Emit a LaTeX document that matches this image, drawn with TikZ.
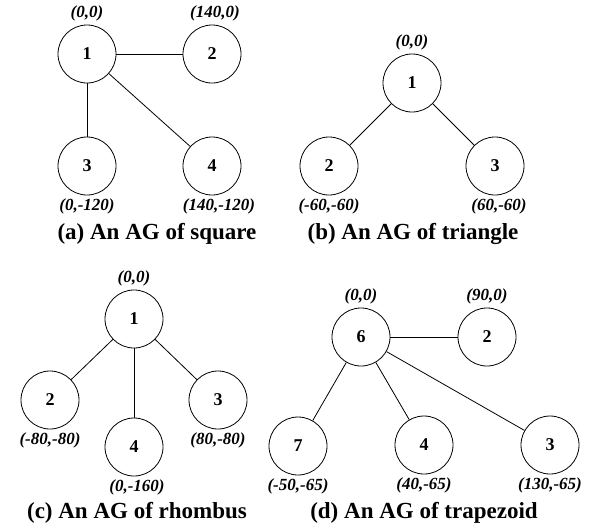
\documentclass[tikz,border=0pt]{standalone}
\usepackage{fontspec}
\setmainfont{Liberation Serif}
\usetikzlibrary{positioning}
\tikzset{every picture/.style={line width=0.8pt},
agnode/.style={circle,draw,minimum size=58pt,inner sep=0pt,font=\fontsize{18}{20}\selectfont\bfseries},
coordlabel/.style={inner sep=0pt,font=\fontsize{17}{19}\selectfont\bfseries\itshape},
captext/.style={inner sep=0pt,font=\fontsize{23}{26}\selectfont\bfseries}}
\begin{document}
\begin{tikzpicture}[x=1pt,y=-1pt]
\useasboundingbox (0,0) rectangle (596,531);

% (a) square
\node (a1) at (87,54) [agnode] {1};
\node (a2) at (212,54) [agnode] {2};
\node (a3) at (87,166) [agnode] {3};
\node (a4) at (212,166) [agnode] {4};
\node (pa1) [coordlabel, above=3pt of a1] {(0,0)};
\node (pa2) [coordlabel, above=3pt of a2, xshift=3pt] {(140,0)};
\node (pa3) [coordlabel, below=3pt of a3] {(0,-120)};
\node (pa4) [coordlabel, below=3pt of a4, xshift=7pt] {(140,-120)};
\draw[-] (a1) -- (a2);
\draw[-] (a1) -- (a3);
\draw[-] (a1) -- (a4);
\node (capa) at (157,234) [captext] {(a) An AG of square};

% (b) triangle
\node (b1) at (412,83) [agnode] {1};
\node (b2) at (329,166) [agnode] {2};
\node (b3) at (495,166) [agnode] {3};
\node (pb1) [coordlabel, above=3pt of b1] {(0,0)};
\node (pb2) [coordlabel, below=3pt of b2] {(-60,-60)};
\node (pb3) [coordlabel, below=3pt of b3, xshift=4pt] {(60,-60)};
\draw[-] (b1) -- (b2);
\draw[-] (b1) -- (b3);
\node (capb) at (413,234) [captext] {(b) An AG of triangle};

% (c) rhombus
\node (c1) at (134,319) [agnode] {1};
\node (c2) at (50,400) [agnode] {2};
\node (c3) at (218,400) [agnode] {3};
\node (c4) at (134,447) [agnode] {4};
\node (pc1) [coordlabel, above=3pt of c1] {(0,0)};
\node (pc2) [coordlabel, below=3pt of c2] {(-80,-80)};
\node (pc3) [coordlabel, below=3pt of c3] {(80,-80)};
\node (pc4) [coordlabel, below=3pt of c4, xshift=3pt] {(0,-160)};
\draw[-] (c1) -- (c2);
\draw[-] (c1) -- (c3);
\draw[-] (c1) -- (c4);
\node (capc) at (137,513) [captext] {(c) An AG of rhombus};

% (d) trapezoid
\node (d6) at (361,337) [agnode] {6};
\node (d2) at (487,337) [agnode] {2};
\node (d7) at (298,446) [agnode] {7};
\node (d4) at (424,445) [agnode] {4};
\node (d3) at (550,445) [agnode] {3};
\node (pd6) [coordlabel, above=3pt of d6] {(0,0)};
\node (pd2) [coordlabel, above=3pt of d2] {(90,0)};
\node (pd7) [coordlabel, below=3pt of d7] {(-50,-65)};
\node (pd4) [coordlabel, below=3pt of d4] {(40,-65)};
\node (pd3) [coordlabel, below=3pt of d3] {(130,-65)};
\draw[-] (d6) -- (d2);
\draw[-] (d6) -- (d7);
\draw[-] (d6) -- (d4);
\draw[-] (d6) -- (d3);
\node (capd) at (424,513) [captext] {(d) An AG of trapezoid};
\end{tikzpicture}
\end{document}
